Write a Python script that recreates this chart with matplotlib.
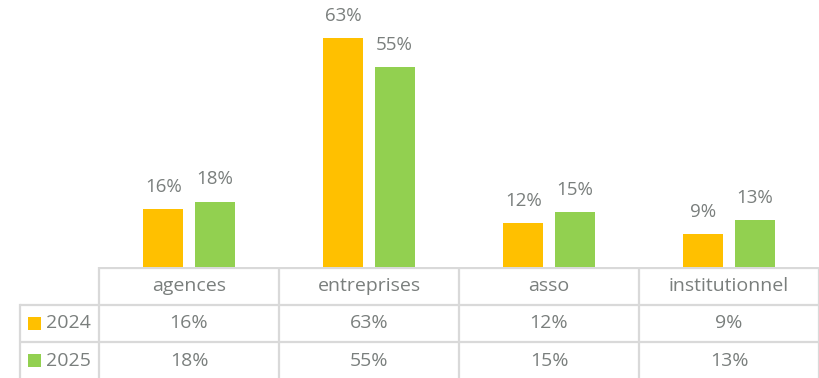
import matplotlib.pyplot as plt
from matplotlib.patches import Rectangle

# --- data ---
categories = ["agences", "entreprises", "asso", "institutionnel"]
series_names = ["2024", "2025"]
values_2024 = [16, 63, 12, 9]
values_2025 = [18, 55, 15, 13]

COLORS = ["#FFC000", "#92D050"]
TEXT = "#7A7F7D"
GRID = "#D9D9D9"
FONT = ["Open Sans", "DejaVu Sans"]

W, H = 820, 378
plt.rcParams['font.family'] = FONT

fig = plt.figure(figsize=(W / 100, H / 100), dpi=100)

# pixel layout
x0, x1 = 99, 819          # category columns
base_y = 267              # bar baseline / table top
row_h = 37.5

def fx(px):
    return px / W

def fy(py):
    return 1 - py / H

# --- bar chart ---
ax = fig.add_axes([fx(x0), fy(base_y), fx(x1) - fx(x0), 1 - fy(base_y)])
ax.set_xlim(0, len(categories))
ax.set_ylim(0, base_y / 3.635)
ax.axis("off")

width = 0.222
off = 0.142
for vals, color, sign in [(values_2024, COLORS[0], -1), (values_2025, COLORS[1], 1)]:
    xs = [i + 0.5 + sign * off for i in range(len(categories))]
    ax.bar(xs, vals, width=width, color=color, edgecolor="none")
    for x, v in zip(xs, vals):
        ax.annotate(f"{v}%", (x, v), xytext=(0, 9.5), textcoords="offset points",
                    ha="center", va="bottom", fontsize=13.5, color=TEXT)

# --- data table ---
tab = fig.add_axes([0, 0, 1, fy(base_y)])
tab.set_xlim(0, W)
tab.set_ylim(H, base_y)
tab.axis("off")

col_w = (x1 - x0) / len(categories)
lw = 1.6
# horizontal lines
tab.plot([x0, x1], [base_y + 0.8, base_y + 0.8], color=GRID, lw=lw, solid_capstyle="butt")
for r in range(1, 3):
    y = base_y + r * row_h
    tab.plot([20, x1], [y, y], color=GRID, lw=lw, solid_capstyle="butt")
# vertical lines
tab.plot([20, 20], [base_y + row_h, H], color=GRID, lw=lw)
for c in range(len(categories) + 1):
    x = x0 + c * col_w
    tab.plot([x, x], [base_y, H], color=GRID, lw=lw)

for c, cat in enumerate(categories):
    tab.text(x0 + (c + 0.5) * col_w, base_y + row_h / 2, cat, ha="center",
             va="center", fontsize=14, color=TEXT)

for r, (name, vals) in enumerate(zip(series_names, [values_2024, values_2025])):
    yc = base_y + (r + 1.5) * row_h
    tab.add_patch(Rectangle((28, yc - 6.5), 13, 13, color=COLORS[r], lw=0))
    tab.text(46, yc, name, ha="left", va="center", fontsize=14, color=TEXT)
    for c, v in enumerate(vals):
        tab.text(x0 + (c + 0.5) * col_w, yc, f"{v}%", ha="center", va="center",
                 fontsize=14, color=TEXT)

fig.savefig("out.png", dpi=100)
